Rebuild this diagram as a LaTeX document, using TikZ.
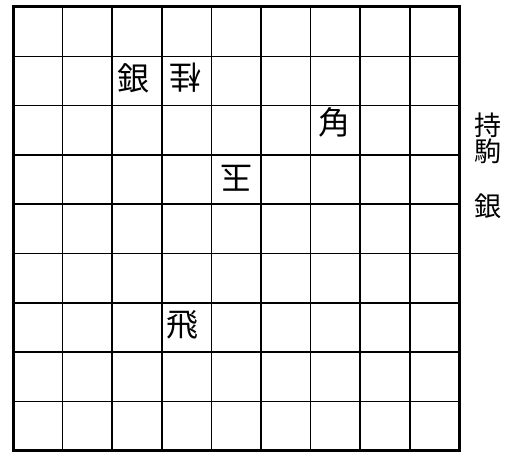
\documentclass[tikz,border=0pt]{standalone}
\usepackage{fontspec}
\newfontfamily\jp{Noto Sans CJK JP}
\begin{document}
\begin{tikzpicture}[x=1pt,y=-1pt,
  piece/.style={font=\jp\fontsize{32}{32}\selectfont, inner sep=0pt},
  hand/.style={font=\jp\fontsize{27}{27}\selectfont, inner sep=0pt},
  thin/.style={line width=1.5pt},
  frame/.style={line width=3pt}]
\useasboundingbox (0,0) rectangle (513,452);
\fill[white] (0,0) rectangle (513,452);
% grid
\foreach \i in {1,...,8} {
  \draw[thin] (13+\i*49.6,7) -- (13+\i*49.6,450.7);
  \draw[thin] (13,7+\i*49.3) -- (459.4,7+\i*49.3);
}
\draw[frame] (13,7) rectangle (459.4,450.7);
% pieces (col c, row r from top-left)
\node[piece] (gin) at (133,78) {銀};
\node[piece,rotate=180] (kei) at (185,78) {桂};
\node[piece] (kaku) at (334,122) {角};
\node[piece,rotate=180] (gyoku) at (236,178) {玉};
\node[piece] (hisha) at (182,325) {飛};
% pieces in hand
\node[hand] (mochi1) at (488,125) {持};
\node[hand] (mochi2) at (488,151) {駒};
\node[hand] (hgin) at (488,206) {銀};
\end{tikzpicture}
\end{document}
